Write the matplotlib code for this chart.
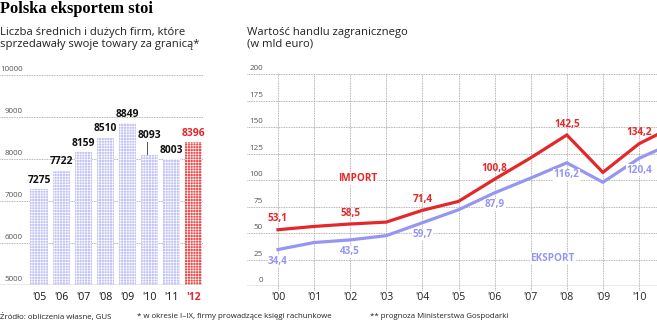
import matplotlib.pyplot as plt
import matplotlib as mpl

mpl.rcParams['font.family'] = ['Open Sans', 'DejaVu Sans']
mpl.rcParams['hatch.linewidth'] = 0.45

# left chart: firms selling abroad
bar_years = ["'05", "'06", "'07", "'08", "'09", "'10", "'11", "'12"]
firms = [7275, 7722, 8159, 8510, 8849, 8093, 8003, 8396]
firm_ticks = [5000, 6000, 7000, 8000, 9000, 10000]

# right chart: foreign trade, bln euro
trade_years = ["'00", "'01", "'02", "'03", "'04", "'05", "'06", "'07", "'08", "'09", "'10", "'11"]
imports = [53.1, 56.2, 58.5, 60.3, 71.4, 79.8, 100.8, 120.9, 142.5, 107.2, 134.2, 151.3]
exports = [34.4, 41.0, 43.5, 47.5, 59.7, 71.9, 87.9, 101.8, 116.2, 97.9, 120.4, 135.8]
imp_labeled = {0: '53,1', 2: '58,5', 4: '71,4', 6: '100,8', 8: '142,5', 10: '134,2'}
exp_labeled = {0: '34,4', 2: '43,5', 4: '59,7', 6: '87,9', 8: '116,2', 10: '120,4'}
trade_ticks = [0, 25, 50, 75, 100, 125, 150, 175, 200]

RED = '#e4282a'
BLUE = '#9696f2'
LAV = '#c2c2f4'
GRID = '#9a9a9a'

W, H = 657, 323
fig = plt.figure(figsize=(W / 100, H / 100), dpi=100)

def px_axes(x0, x1, y_top, y_bot):
    return fig.add_axes([x0 / W, (H - y_bot) / H, (x1 - x0) / W, (y_bot - y_top) / H])

fig.text(0 / W, 1 - 9 / H, 'Polska eksportem stoi', fontsize=11.8, fontweight='bold',
         family='Liberation Serif', va='center', ha='left')
fig.text(0 / W, 1 - 32 / H, 'Liczba średnich i dużych firm, które', fontsize=8.1,
         va='center', ha='left', color='#222222')
fig.text(0 / W, 1 - 44 / H, 'sprzedawały swoje towary za granicą*', fontsize=8.1,
         va='center', ha='left', color='#222222')
fig.text(247 / W, 1 - 32 / H, 'Wartość handlu zagranicznego', fontsize=8.1,
         va='center', ha='left', color='#222222')
fig.text(247 / W, 1 - 44 / H, '(w mld euro)', fontsize=8.1,
         va='center', ha='left', color='#222222')

# ---- left chart
ax = px_axes(0, 203, 75, 285)
step = 22.1
ax.set_xlim(-39 / step, (203 - 39) / step)
ax.set_ylim(5000, 10000)
for s in ax.spines.values():
    s.set_visible(False)
ax.set_xticks([])
ax.set_yticks([])
for t in firm_ticks[1:]:
    ax.axhline(t, color=GRID, lw=0.6, ls=(0, (1, 1)), zorder=0)
for t in firm_ticks:
    ax.text((23 - 39) / step, t + 40, str(t), ha='right', va='bottom', fontsize=5.8,
            color='#555555', clip_on=False)
ax.axhline(5000, color='#555555', lw=0.9, zorder=3)
xs = list(range(len(firms)))
cols = [LAV] * (len(firms) - 1) + ['#ec4c4c']
ax.bar(xs, [f - 5000 for f in firms], bottom=5000, width=0.77, color=cols,
       edgecolor='white', hatch='++++++', linewidth=0, zorder=1)
for i, (yr, v) in enumerate(zip(bar_years, firms)):
    c = RED if i == len(firms) - 1 else '#111111'
    dy = 80
    if i == 5:
        dy = 330
        ax.plot([i - 0.1, i - 0.1], [v + 20, v + 300], color='#555555', lw=0.7)
    ax.text(i, v + dy, str(v), ha='center', va='bottom', fontsize=7.4, fontweight='bold',
            color=c)
    ax.text(i, 5000 - 170, yr, ha='center', va='top', fontsize=7.6, color=c,
            fontweight='bold' if i == len(firms) - 1 else 'normal', clip_on=False)

# ---- right chart
ax2 = px_axes(247, 657, 74, 286)
step2 = 36.1
ax2.set_xlim(-31 / step2, (657 - 278) / step2)
ax2.set_ylim(0, 200)
for s in ax2.spines.values():
    s.set_visible(False)
ax2.set_xticks([])
ax2.set_yticks([])
for t in trade_ticks[1:]:
    ax2.axhline(t, color=GRID, lw=0.6, ls=(0, (1, 1)), zorder=0)
for t in trade_ticks:
    ax2.text((263 - 278) / step2, t + 1.5, str(t), ha='right', va='bottom', fontsize=5.8,
             color='#555555')
ax2.axhline(0, color='#555555', lw=0.9, zorder=3)
for i in range(len(trade_years) - 1):
    ax2.plot([i, i], [-4, 200], color=GRID, lw=0.6, ls=(0, (1, 1)), zorder=0, clip_on=False)
    ax2.text(i, -6, trade_years[i], ha='center', va='top', fontsize=7.6, color='#222222')

xs2 = list(range(len(trade_years)))
ax2.plot(xs2, exports, color=BLUE, lw=2.3, zorder=4, solid_joinstyle='miter')
ax2.plot(xs2, imports, color=RED, lw=2.3, zorder=5, solid_joinstyle='miter')
for i, lab in imp_labeled.items():
    ax2.text(i, imports[i] + 5, lab, ha='center', va='bottom', fontsize=7.2,
             fontweight='bold', color=RED, zorder=6)
for i, lab in exp_labeled.items():
    ax2.text(i, exports[i] - 6, lab, ha='center', va='top', fontsize=7.2,
             fontweight='bold', color=BLUE, zorder=6,
             bbox=dict(facecolor='white', edgecolor='none', pad=0.3))
ax2.text(2.2, 101, 'IMPORT', ha='center', va='center', fontsize=7.2, fontweight='bold',
         color=RED, bbox=dict(facecolor='white', edgecolor='none', pad=0.3))
ax2.text(7.6, 26, 'EKSPORT', ha='center', va='center', fontsize=7.2, fontweight='bold',
         color=BLUE, bbox=dict(facecolor='white', edgecolor='none', pad=0.3))

# footer
fy = 1 - 317 / H
fig.text(0, fy, 'Źródło: obliczenia własne, GUS', fontsize=5.7, va='center', color='#222222')
fig.text(137 / W, fy, '* w okresie I–IX, firmy prowadzące księgi rachunkowe', fontsize=5.7,
         va='center', color='#222222')
fig.text(370 / W, fy, '** prognoza Ministerstwa Gospodarki', fontsize=5.7, va='center',
         color='#222222')

fig.savefig('out.png', dpi=100)
